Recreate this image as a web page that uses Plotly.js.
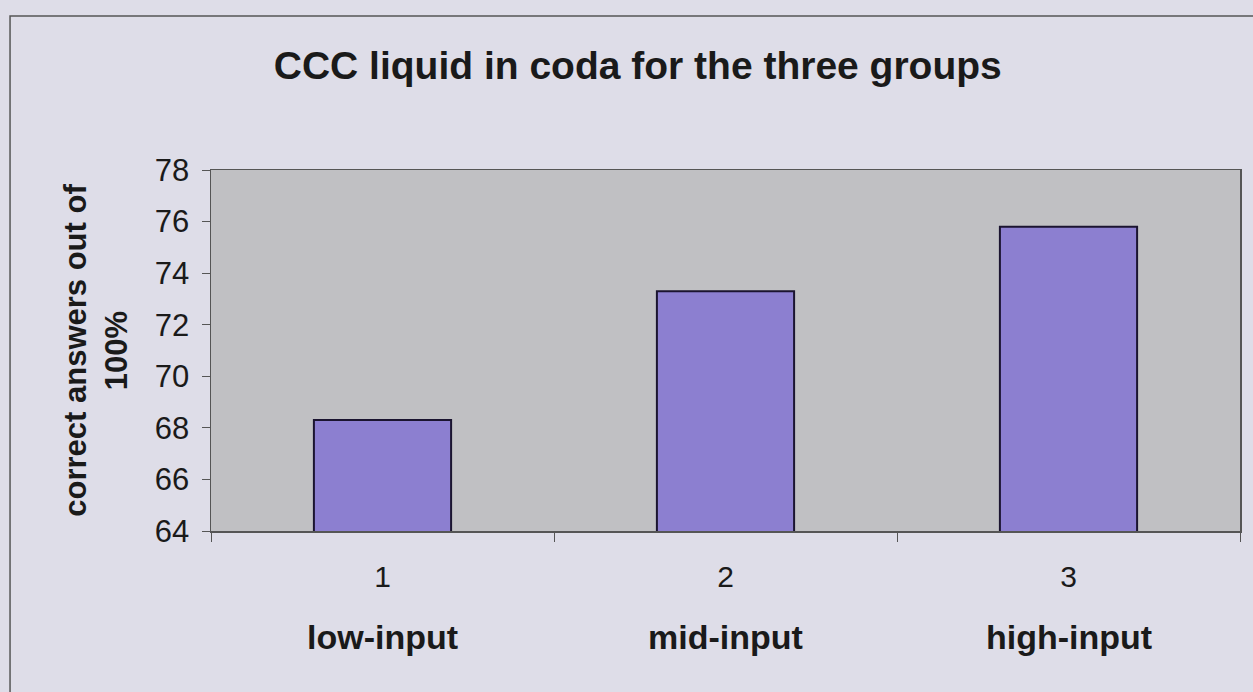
<!DOCTYPE html>
<html>
<head>
<meta charset="utf-8">
<script src="https://cdn.plot.ly/plotly-3.0.1.min.js"></script>
<style>html,body{margin:0;padding:0;background:#dedde8;}#chart{width:1253px;height:692px;}</style>
</head>
<body>
<div id="chart"></div>
<script>
const categories = ["1", "2", "3"];
const groupLabels = ["low-input", "mid-input", "high-input"];
const values = [68.3, 73.3, 75.8];
const yTicks = [64, 66, 68, 70, 72, 74, 76, 78];

const font = "Liberation Sans, Arial, sans-serif";

const trace = {
  type: "bar",
  x: categories,
  y: values,
  marker: {color: "#8c7fd0", line: {color: "#1b1430", width: 2}},
  width: 0.4,
  hoverinfo: "x+y"
};

const annotations = categories.map((c, i) => ({
  x: i, xref: "x", y: -0.294, yref: "paper",
  text: "<b>" + groupLabels[i] + "</b>", showarrow: false,
  font: {family: font, size: 34, color: "#1a1a1a"},
  xanchor: "center", yanchor: "middle"
}));

const layout = {
  width: 1253, height: 692,
  paper_bgcolor: "#dedde8",
  plot_bgcolor: "#c0c0c3",
  margin: {l: 211, r: 13, t: 170, b: 161},
  showlegend: false,
  title: {
    text: "<b>CCC liquid in coda for the three groups</b>",
    font: {family: font, size: 39, color: "#1a1a1a"},
    x: 0.509, xref: "container", xanchor: "center",
    y: 0.906, yref: "container", yanchor: "middle"
  },
  xaxis: {
    type: "category",
    range: [-0.5, 2.5],
    tickson: "boundaries",
    ticks: "outside", ticklen: 9, tickcolor: "#555", tickwidth: 1,
    showline: true, linecolor: "#555", linewidth: 1.5, mirror: true,
    showgrid: false,
    tickfont: {family: font, size: 30, color: "#1a1a1a"},
    ticklabelstandoff: 18
  },
  yaxis: {
    range: [64, 78],
    tickvals: yTicks,
    ticks: "outside", ticklen: 8, tickcolor: "#555", tickwidth: 1,
    showline: true, linecolor: "#555", linewidth: 1.5, mirror: true,
    showgrid: false, zeroline: false,
    tickfont: {family: font, size: 31, color: "#1a1a1a"},
    ticklabelstandoff: 6,
    title: {
      text: "<b>correct answers out of<br>100%</b>",
      font: {family: font, size: 31, color: "#1a1a1a"},
      standoff: 18
    }
  },
  annotations: annotations,
  shapes: [{
    type: "rect", xref: "paper", yref: "paper",
    x0: -0.1953, x1: 2, y0: -2, y1: 1.4266,
    line: {color: "#555", width: 1.5}, fillcolor: "rgba(0,0,0,0)", layer: "below"
  }]
};

Plotly.newPlot("chart", [trace], layout, {displayModeBar: false, staticPlot: true});
</script>
</body>
</html>
